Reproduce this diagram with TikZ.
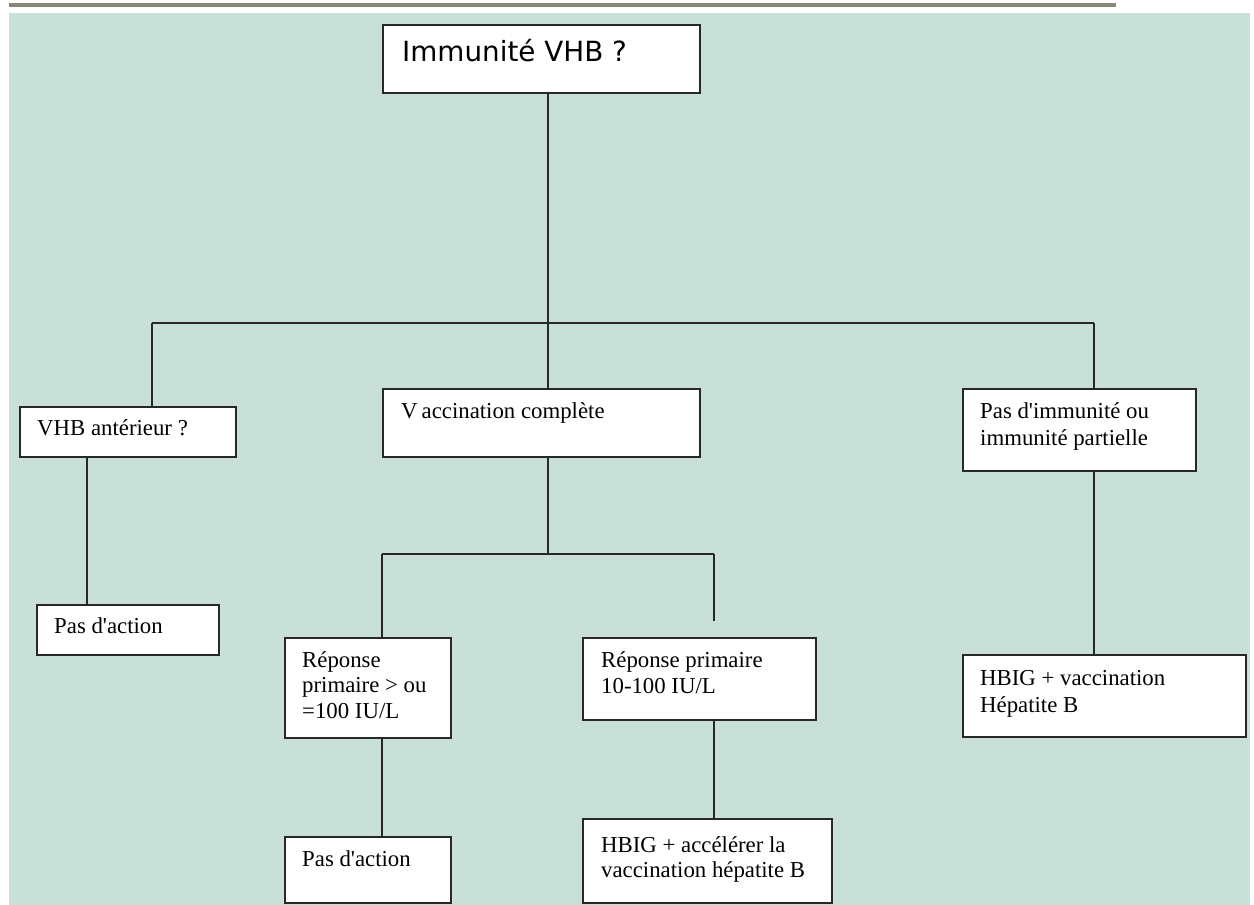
\documentclass[tikz,border=0pt]{standalone}
\usepackage{fontspec}
\setmainfont{Liberation Serif}
\newfontfamily\titlefont{DejaVu Sans}
\usetikzlibrary{calc}
\definecolor{bgteal}{RGB}{201,224,216}
\definecolor{bargray}{RGB}{138,135,122}
\definecolor{ink}{RGB}{40,40,40}
\tikzset{
  box/.style={draw=ink, line width=2pt, fill=white, rectangle, inner sep=0pt, anchor=north west},
  txt/.style={anchor=base west, inner sep=0pt, text=black, font=\fontsize{22.8}{26}\selectfont},
  conn/.style={draw=ink, line width=2pt},
}
\newcommand\mlines[1]{\begin{tabular}[t]{@{}l@{}}#1\end{tabular}}
\newcommand\apos{\textquotesingle}
\begin{document}
\begin{tikzpicture}[x=1pt,y=-1pt]
\useasboundingbox (0,0) rectangle (1254,905);
\fill[white] (0,0) rectangle (1254,905);
\fill[bgteal] (9,13) rectangle (1250,905);
\fill[bargray] (9,3) rectangle (1116,6.5);

% boxes
\node[box, minimum width=317pt, minimum height=68pt] (top) at (382,24) {};
\node[box, minimum width=317pt, minimum height=68pt] (vacc) at (382,388) {};
\node[box, minimum width=216pt, minimum height=50pt] (vhb) at (19,406) {};
\node[box, minimum width=182pt, minimum height=50pt] (pa1) at (36,604) {};
\node[box, minimum width=166pt, minimum height=100pt] (rl) at (284,637) {};
\node[box, minimum width=233pt, minimum height=82pt] (rr) at (582,637) {};
\node[box, minimum width=166pt, minimum height=66pt] (pa2) at (284,836) {};
\node[box, minimum width=249pt, minimum height=84pt] (ha) at (582,818) {};
\node[box, minimum width=233pt, minimum height=82pt] (pim) at (962,388) {};
\node[box, minimum width=283pt, minimum height=82pt] (hv) at (962,654) {};

% texts
\node[txt, font=\titlefont\fontsize{27.8}{30}\selectfont] (top-t) at (402,61) {Immunité VHB ?};
\node[txt] (vacc-t) at (401,418) {V\kern4pt accination complète};
\node[txt] (vhb-t) at (37,435) {VHB antérieur ?};
\node[txt] (pa1-t) at (54,633) {Pas d\apos action};
\node[txt, font=\fontsize{22.8}{25.5}\selectfont] (rl-t) at (302,667) {\mlines{Réponse\\primaire > ou\\=100 IU/L}};
\node[txt, font=\fontsize{22.8}{26}\selectfont] (rr-t) at (601,667) {\mlines{Réponse primaire\\10-100 IU/L}};
\node[txt] (pa2-t) at (302,866) {Pas d\apos action};
\node[txt, font=\fontsize{22.8}{25}\selectfont] (ha-t) at (601,852) {\mlines{HBIG + accélérer la\\vaccination hépatite B}};
\node[txt, font=\fontsize{22.8}{27}\selectfont] (pim-t) at (980,418) {\mlines{Pas d\apos immunité ou\\immunité partielle}};
\node[txt, font=\fontsize{22.8}{27}\selectfont] (hv-t) at (980,685) {\mlines{HBIG + vaccination\\Hépatite B}};

% junctions
\coordinate (jt) at (548,323);
\coordinate (jl) at (152,323);
\coordinate (jr) at (1094,323);
\coordinate (xl) at (87,0);
\coordinate (jm) at (548,554);
\coordinate (jml) at (382,554);
\coordinate (jmr) at (714,554);
\coordinate (jmre) at (714,621);

% connectors
\draw[conn] (top.south -| jt) -- (vacc.north -| jt);
\draw[conn] (jl) -- (jr);
\draw[conn] (jl) -- (vhb.north -| jl);
\draw[conn] (vhb.south -| xl) -- (pa1.north -| xl);
\draw[conn] (jr) -- (pim.north -| jr);
\draw[conn] (pim.south -| jr) -- (hv.north -| jr);
\draw[conn] (vacc.south -| jm) -- (jm);
\draw[conn] (jml) -- (jmr);
\draw[conn] (jml) -- (rl.north -| jml);
\draw[conn] (jmr) -- (jmre);
\draw[conn] (rl.south -| jml) -- (pa2.north -| jml);
\draw[conn] (rr.south -| jmr) -- (ha.north -| jmr);
\end{tikzpicture}
\end{document}
